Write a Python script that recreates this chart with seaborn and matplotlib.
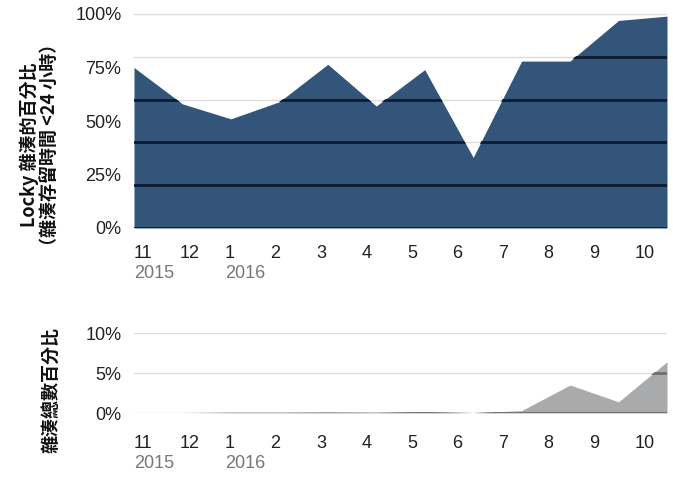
import numpy as np
import matplotlib
matplotlib.use("Agg")
import matplotlib.pyplot as plt
import seaborn as sns

sns.set_theme(style="white")
plt.rcParams['font.family'] = ['Liberation Sans', 'Noto Sans CJK TC', 'DejaVu Sans']

# data: 12 sample points, Nov 2015 - Oct 2016
pct_short_lived = [75, 58, 51, 59, 76.5, 57, 74, 33, 78, 78, 97, 99]
pct_total = [0, 0, 0.05, 0.05, 0.08, 0.05, 0.15, 0, 0.3, 3.5, 1.4, 6.4]
month_labels = ['11', '12', '1', '2', '3', '4', '5', '6', '7', '8', '9', '10']
year_labels = {0: '2015', 2: '2016'}
top_yticks = [0, 25, 50, 75, 100]
top_grid = [0, 20, 40, 60, 80, 100]
bot_yticks = [0, 5, 10]

x = np.arange(len(pct_short_lived))
tick_pos = np.arange(len(month_labels)) * 11 / 11.71

W, H = 673, 484
fig = plt.figure(figsize=(W / 100, H / 100), dpi=100)
ax1 = fig.add_axes([134 / W, 1 - 228 / H, 533 / W, 214 / H])
ax2 = fig.add_axes([134 / W, 1 - 413 / H, 533 / W, 80 / H])


def area_panel(ax, vals, ymax, grid, yticks, fill, inner, month_pad, year_off):
    ax.set_xlim(0, 11)
    ax.set_ylim(0, ymax)
    for g in grid:
        ax.axhline(g, color='#dcdcdc', lw=1, zorder=0)
    poly = ax.fill_between(x, 0, vals, color=fill, lw=0, zorder=1)
    clip = poly.get_paths()[0]
    for g in grid:
        ln = ax.axhline(g, color=inner, lw=2, zorder=3)
        ln.set_clip_path(clip, transform=ax.transData)
    ax.set_yticks(yticks)
    ax.set_yticklabels([f'{t}%' for t in yticks], fontsize=13, color='#222222')
    ax.set_xticks(tick_pos)
    ax.set_xticklabels(month_labels, fontsize=13, color='#222222', ha='left')
    ax.tick_params(axis='x', length=0, pad=month_pad)
    ax.tick_params(axis='y', length=0, pad=9)
    for i, yr in year_labels.items():
        ax.annotate(yr, xy=(tick_pos[i], 0), xycoords=ax.get_xaxis_transform(),
                    xytext=(0, year_off), textcoords='offset pixels',
                    ha='left', va='center', fontsize=13, color='#777777')
    sns.despine(ax=ax, left=True, bottom=True)


area_panel(ax1, pct_short_lived, 100, top_grid, top_yticks, '#34557a', '#0d1b33', 12, -45)
area_panel(ax2, pct_total, 10, bot_yticks, bot_yticks, '#a9aaac', '#6e6e6e', 16, -50)

cjk = ['Noto Sans CJK TC', 'DejaVu Sans']
fig.text(40 / W, 1 - 145 / H, 'Locky 雜湊的百分比\n（雜湊存留時間 <24 小時）',
         rotation=90, ha='center', va='center', multialignment='center',
         fontsize=13, fontweight='bold', family=cjk, color='#111111', linespacing=1.1)
fig.text(51 / W, 1 - 390 / H, '雜湊總數百分比', rotation=90, ha='center', va='center',
         fontsize=13, fontweight='bold', family=cjk, color='#111111')

fig.savefig('out.png', dpi=100)
